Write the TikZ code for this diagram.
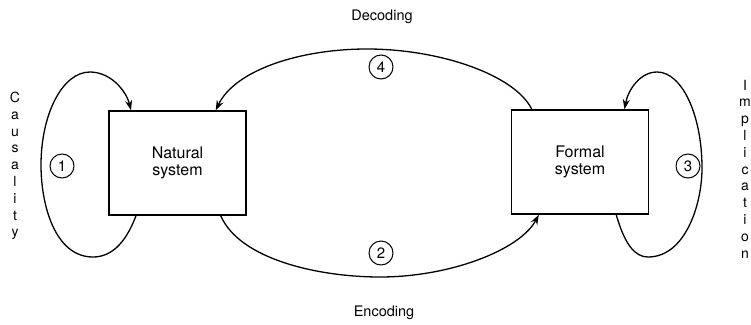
\documentclass[tikz,border=0pt]{standalone}
\usepackage{fontspec}
\setmainfont{TeX Gyre Heros}
\usetikzlibrary{arrows.meta}
\tikzset{
  sysbox/.style={draw, line width=1.4pt, minimum width=137pt, minimum height=104pt,
    align=center, font=\fontsize{16}{17.5}\selectfont},
  numcirc/.style={draw, circle, line width=1pt, minimum size=24pt, inner sep=0pt,
    font=\fontsize{15}{15}\selectfont},
  flow/.style={line width=1.3pt},
  flowarr/.style={flow, -{Stealth[length=10pt,width=7pt]}},
  caption/.style={font=\fontsize{14.5}{17}\selectfont},
  vertlabel/.style={align=center, inner sep=0pt, font=\fontsize{14}{16.8}\selectfont},
}
\begin{document}
\begin{tikzpicture}[x=1pt,y=-1pt]
\useasboundingbox (0,0) rectangle (751,324);

% the two systems
\node[sysbox] (nat) at (177.5,163) {Natural\\system};
\node[sysbox] (frm) at (580,162) {Formal\\system};

% numbered relations
\node[numcirc] (c1) at (62,166) {1};
\node[numcirc] (c2) at (381,253) {2};
\node[numcirc] (c3) at (688,166) {3};
\node[numcirc] (c4) at (381,67) {4};

% captions
\node[caption] (dec) at (382,17) {Decoding};
\node[caption] (enc) at (384,313) {Encoding};
\node[vertlabel] (caus) at (15,166) {C\\a\\u\\s\\a\\l\\i\\t\\y};
\node[vertlabel] (impl) at (745,169) {I\\m\\p\\l\\i\\c\\a\\t\\i\\o\\n};

% end points on the box borders
\coordinate (n1s) at ([xshift=27.7pt]nat.south west);
\coordinate (n1e) at ([xshift=22.7pt]nat.north west);
\coordinate (n2s) at ([xshift=-26pt]nat.south east);
\coordinate (n4e) at ([xshift=-31pt]nat.north east);
\coordinate (f2e) at ([xshift=28pt]frm.south west);
\coordinate (f4s) at ([xshift=21pt]frm.north west);
\coordinate (f3s) at ([xshift=-33pt]frm.south east);
\coordinate (f3e) at ([xshift=-24.7pt]frm.north east);

% (1) causality loop
\draw[flowarr] (n1s) .. controls (125,245) and (110,257) .. (93,257)
  .. controls (55,257) and (41,205) .. (41,165)
  .. controls (41,115) and (62,72) .. (90,72)
  .. controls (110,72) and (126,90) .. (n1e);

% (3) implication loop
\draw[flowarr] (f3s) .. controls (625,245) and (635,257) .. (648,257)
  .. controls (685,257) and (702,205) .. (702,168)
  .. controls (702,115) and (682,72) .. (657,72)
  .. controls (640,72) and (628,90) .. (f3e);

% (4) decoding
\draw[flowarr] (f4s) .. controls (515,75) and (440,49) .. (367,49)
  .. controls (300,49) and (235,70) .. (n4e);

% (2) encoding
\draw[flowarr] (n2s) .. controls (240,260) and (320,277) .. (380,277)
  .. controls (450,277) and (520,250) .. (f2e);
\end{tikzpicture}
\end{document}
